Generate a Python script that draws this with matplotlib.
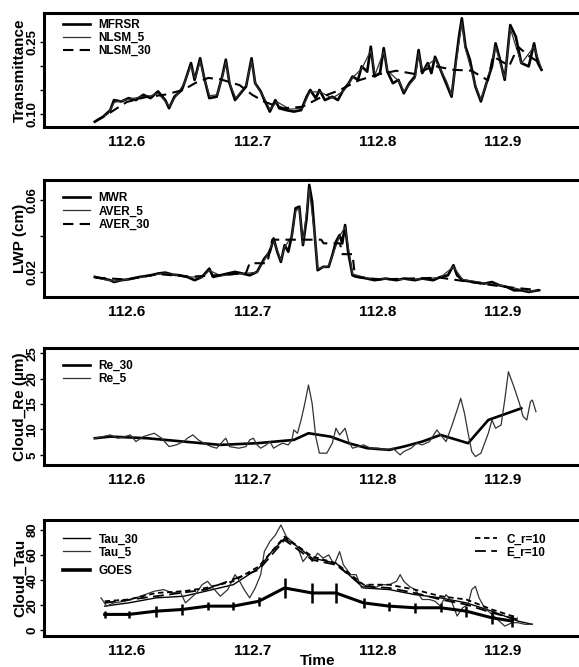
import matplotlib
matplotlib.use("Agg")
import matplotlib.pyplot as plt
from matplotlib.lines import Line2D
from matplotlib import font_manager

names = {f.name for f in font_manager.fontManager.ttflist}
FONT = "Liberation Sans" if "Liberation Sans" in names else "DejaVu Sans"
plt.rcParams["font.family"] = [FONT, "DejaVu Sans"]
plt.rcParams["font.weight"] = "bold"

# ---- data (time in fractional day) ----
xticks = [112.6, 112.7, 112.8, 112.9]

# panel 1: transmittance
mfrsr_t = [112.5745, 112.5810, 112.5868, 112.5898, 112.5956, 112.6015, 112.6073, 112.6132, 112.6190,
           112.6249, 112.6307, 112.6337, 112.6380, 112.6439, 112.6468, 112.6512, 112.6541, 112.6585,
           112.6615, 112.6658, 112.6717, 112.6761, 112.6790, 112.6819, 112.6863, 112.6907, 112.6951,
           112.6995, 112.7024, 112.7068, 112.7097, 112.7141, 112.7185, 112.7215, 112.7273, 112.7332,
           112.7390, 112.7434, 112.7463, 112.7507, 112.7536, 112.7580, 112.7639, 112.7683, 112.7727,
           112.7770, 112.7800, 112.7844, 112.7873, 112.7917, 112.7946, 112.7975, 112.8019, 112.8049,
           112.8078, 112.8122, 112.8166, 112.8209, 112.8253, 112.8297, 112.8327, 112.8356, 112.8400,
           112.8429, 112.8458, 112.8502, 112.8546, 112.8590, 112.8619, 112.8649, 112.8672, 112.8701,
           112.8736, 112.8780, 112.8824, 112.8868, 112.8912, 112.8941, 112.8970, 112.9014, 112.9058,
           112.9102, 112.9146, 112.9205, 112.9248, 112.9278, 112.9307]
mfrsr_v = [0.084, 0.094, 0.108, 0.129, 0.126, 0.133, 0.129, 0.140, 0.133,
           0.147, 0.129, 0.112, 0.136, 0.150, 0.171, 0.206, 0.171, 0.216,
           0.178, 0.133, 0.136, 0.178, 0.213, 0.164, 0.129, 0.143, 0.157,
           0.216, 0.164, 0.147, 0.129, 0.105, 0.129, 0.112, 0.108, 0.105,
           0.108, 0.136, 0.150, 0.133, 0.150, 0.129, 0.136, 0.129, 0.150,
           0.164, 0.178, 0.171, 0.199, 0.188, 0.240, 0.178, 0.185, 0.237,
           0.188, 0.164, 0.171, 0.143, 0.164, 0.178, 0.233, 0.185, 0.206,
           0.185, 0.219, 0.192, 0.164, 0.136, 0.199, 0.261, 0.299, 0.240,
           0.213, 0.157, 0.126, 0.164, 0.199, 0.247, 0.219, 0.171, 0.285,
           0.261, 0.206, 0.199, 0.247, 0.206, 0.192]
nlsm5_t = [112.5760, 112.5850, 112.5900, 112.6000, 112.6100, 112.6190, 112.6250, 112.6310, 112.6340,
           112.6400, 112.6460, 112.6510, 112.6545, 112.6585, 112.6620, 112.6660, 112.6720, 112.6760,
           112.6790, 112.6825, 112.6870, 112.6950, 112.6995, 112.7030, 112.7100, 112.7140, 112.7200,
           112.7300, 112.7400, 112.7460, 112.7540, 112.7640, 112.7730, 112.7800, 112.7875, 112.7946,
           112.7980, 112.8049, 112.8080, 112.8170, 112.8210, 112.8300, 112.8327, 112.8360, 112.8400,
           112.8458, 112.8550, 112.8590, 112.8620, 112.8672, 112.8700, 112.8780, 112.8824, 112.8870,
           112.8941, 112.9014, 112.9058, 112.9146, 112.9248, 112.9307]
nlsm5_v = [0.088, 0.100, 0.124, 0.130, 0.135, 0.138, 0.143, 0.125, 0.116,
           0.140, 0.165, 0.200, 0.175, 0.210, 0.172, 0.138, 0.140, 0.175,
           0.208, 0.160, 0.133, 0.160, 0.210, 0.160, 0.132, 0.110, 0.125,
           0.110, 0.112, 0.146, 0.146, 0.133, 0.148, 0.175, 0.195, 0.232,
           0.182, 0.230, 0.190, 0.168, 0.147, 0.175, 0.226, 0.188, 0.202,
           0.214, 0.168, 0.140, 0.196, 0.290, 0.236, 0.160, 0.130, 0.165,
           0.240, 0.175, 0.278, 0.205, 0.240, 0.195]
nlsm30_t = [112.575, 112.585, 112.600, 112.615, 112.630, 112.645, 112.655, 112.665, 112.675, 112.690,
            112.700, 112.710, 112.725, 112.740, 112.755, 112.770, 112.785, 112.800, 112.815, 112.830,
            112.845, 112.860, 112.875, 112.888, 112.892, 112.905, 112.912, 112.920, 112.930]
nlsm30_v = [0.085, 0.100, 0.125, 0.135, 0.140, 0.150, 0.165, 0.175, 0.172, 0.160,
            0.140, 0.125, 0.112, 0.115, 0.135, 0.150, 0.170, 0.182, 0.190, 0.183,
            0.200, 0.192, 0.190, 0.170, 0.220, 0.200, 0.240, 0.222, 0.205]

# panel 2: liquid water path
mwr_t = [112.5745, 112.5810, 112.5868, 112.5898, 112.5956, 112.6015, 112.6102, 112.6190, 112.6249,
         112.6307, 112.6366, 112.6424, 112.6483, 112.6541, 112.6600, 112.6658, 112.6688, 112.6746,
         112.6805, 112.6863, 112.6922, 112.6980, 112.7039, 112.7068, 112.7097, 112.7141, 112.7171,
         112.7200, 112.7229, 112.7259, 112.7288, 112.7317, 112.7346, 112.7376, 112.7405, 112.7434,
         112.7455, 112.7478, 112.7501, 112.7522, 112.7566, 112.7610, 112.7639, 112.7668, 112.7697,
         112.7718, 112.7741, 112.7765, 112.7800, 112.7844, 112.7917, 112.7975, 112.8063, 112.8151,
         112.8209, 112.8297, 112.8356, 112.8444, 112.8502, 112.8561, 112.8605, 112.8634, 112.8678,
         112.8765, 112.8853, 112.8912, 112.8970, 112.9029, 112.9087, 112.9146, 112.9205, 112.9278]
mwr_v = [0.0174, 0.0165, 0.0156, 0.0146, 0.0156, 0.0161, 0.0174, 0.0183, 0.0193,
         0.0198, 0.0187, 0.0183, 0.0174, 0.0156, 0.0174, 0.0220, 0.0174, 0.0183,
         0.0193, 0.0202, 0.0193, 0.0183, 0.0202, 0.0239, 0.0276, 0.0313, 0.0387,
         0.0313, 0.0257, 0.0350, 0.0313, 0.0406, 0.0554, 0.0563, 0.0350, 0.0498,
         0.0683, 0.0591, 0.0387, 0.0211, 0.0230, 0.0230, 0.0294, 0.0369, 0.0406,
         0.0359, 0.0461, 0.0313, 0.0183, 0.0174, 0.0165, 0.0156, 0.0165, 0.0156,
         0.0165, 0.0156, 0.0165, 0.0156, 0.0174, 0.0183, 0.0239, 0.0183, 0.0156,
         0.0146, 0.0137, 0.0146, 0.0128, 0.0119, 0.0100, 0.0100, 0.0091, 0.0100]
aver5_t = [112.5745, 112.5900, 112.6100, 112.6300, 112.6480, 112.6600, 112.6660, 112.6750, 112.6920,
           112.7040, 112.7100, 112.7171, 112.7229, 112.7259, 112.7317, 112.7346, 112.7376, 112.7405,
           112.7455, 112.7501, 112.7522, 112.7610, 112.7697, 112.7741, 112.7800, 112.7917, 112.8151,
           112.8356, 112.8502, 112.8605, 112.8678, 112.8853, 112.9029, 112.9205, 112.9278]
aver5_v = [0.0170, 0.0150, 0.0170, 0.0195, 0.0175, 0.0172, 0.0210, 0.0180, 0.0192,
           0.0200, 0.0270, 0.0375, 0.0265, 0.0340, 0.0400, 0.0540, 0.0550, 0.0360,
           0.0660, 0.0390, 0.0220, 0.0235, 0.0400, 0.0450, 0.0190, 0.0168, 0.0160,
           0.0163, 0.0172, 0.0230, 0.0160, 0.0140, 0.0122, 0.0095, 0.0100]
aver30_t = [112.575, 112.600, 112.625, 112.650, 112.675, 112.695, 112.698, 112.712, 112.716, 112.755,
            112.757, 112.770, 112.772, 112.780, 112.782, 112.800, 112.850, 112.870, 112.900, 112.930]
aver30_v = [0.0170, 0.0160, 0.0190, 0.0175, 0.0185, 0.0195, 0.0250, 0.0250, 0.0380, 0.0380,
            0.0360, 0.0360, 0.0300, 0.0300, 0.0175, 0.0160, 0.0170, 0.0150, 0.0120, 0.0100]

# panel 3: effective radius
re30_t = [112.5745, 112.5868, 112.6161, 112.6454, 112.6746, 112.7039, 112.7332, 112.7449, 112.7624,
          112.7770, 112.7917, 112.8093, 112.8209, 112.8356, 112.8502, 112.8722, 112.8883, 112.9146]
re30_v = [8.27, 8.59, 8.27, 7.61, 6.96, 7.29, 7.94, 9.25, 8.59,
          7.29, 6.31, 5.98, 6.63, 7.61, 8.92, 7.29, 11.86, 14.15]
re5_t = [112.5745, 112.5810, 112.5868, 112.5927, 112.5985, 112.6029, 112.6073, 112.6132, 112.6219,
         112.6278, 112.6337, 112.6395, 112.6454, 112.6483, 112.6527, 112.6571, 112.6615, 112.6673,
         112.6717, 112.6776, 112.6790, 112.6819, 112.6893, 112.6951, 112.6980, 112.7010, 112.7039,
         112.7068, 112.7112, 112.7141, 112.7171, 112.7215, 112.7244, 112.7288, 112.7317, 112.7332,
         112.7361, 112.7390, 112.7420, 112.7449, 112.7478, 112.7507, 112.7536, 112.7595, 112.7639,
         112.7668, 112.7697, 112.7741, 112.7770, 112.7800, 112.7844, 112.7888, 112.7946, 112.8005,
         112.8063, 112.8122, 112.8151, 112.8180, 112.8209, 112.8268, 112.8312, 112.8356, 112.8414,
         112.8473, 112.8502, 112.8546, 112.8590, 112.8634, 112.8663, 112.8693, 112.8722, 112.8751,
         112.8780, 112.8824, 112.8883, 112.8912, 112.8941, 112.8985, 112.9014, 112.9043, 112.9087,
         112.9131, 112.9161, 112.9190, 112.9219, 112.9234, 112.9263]
re5_v = [8.27, 8.59, 8.92, 8.27, 8.59, 8.92, 7.61, 8.59, 9.25,
         8.27, 6.63, 6.96, 7.61, 8.27, 8.92, 7.94, 7.29, 6.63,
         6.31, 7.94, 8.27, 6.63, 6.31, 6.63, 7.94, 8.27, 6.96,
         6.31, 6.96, 7.61, 6.31, 6.96, 7.29, 6.96, 7.94, 9.90,
         9.25, 11.86, 15.13, 18.73, 15.13, 8.59, 5.33, 5.33, 7.29,
         10.23, 8.92, 10.23, 7.61, 6.31, 6.63, 6.96, 6.31, 6.31,
         5.98, 6.31, 5.65, 5.00, 5.65, 6.31, 7.29, 6.96, 7.61,
         9.90, 8.92, 7.61, 10.56, 13.82, 16.11, 13.17, 9.25, 5.65,
         4.67, 5.33, 9.25, 11.86, 10.23, 10.88, 15.78, 21.34, 18.40,
         15.13, 12.52, 11.86, 15.46, 15.78, 13.50]

# panel 4: optical depth
tau30_t = [112.5824, 112.6015, 112.6234, 112.6454, 112.6629, 112.6849, 112.7053, 112.7156, 112.7258,
           112.7361, 112.7478, 112.7668, 112.7800, 112.7888, 112.8093, 112.8297, 112.8502, 112.8707,
           112.8912, 112.9117, 112.9234]
tau30_v = [19.3, 21.9, 25.9, 27.2, 31.2, 36.4, 49.6, 62.8, 73.4,
           66.8, 57.6, 53.6, 41.7, 33.8, 32.5, 28.5, 25.9, 21.9,
           15.3, 7.4, 4.8]
tau5_t = [112.5795, 112.5839, 112.5898, 112.5985, 112.6073, 112.6146, 112.6219, 112.6293, 112.6366,
          112.6424, 112.6468, 112.6512, 112.6556, 112.6600, 112.6644, 112.6688, 112.6746, 112.6805,
          112.6863, 112.6893, 112.6936, 112.6980, 112.7024, 112.7068, 112.7097, 112.7141, 112.7185,
          112.7229, 112.7273, 112.7317, 112.7361, 112.7405, 112.7449, 112.7478, 112.7522, 112.7566,
          112.7610, 112.7654, 112.7697, 112.7727, 112.7785, 112.7829, 112.7873, 112.7917, 112.7975,
          112.8034, 112.8093, 112.8151, 112.8180, 112.8209, 112.8253, 112.8297, 112.8356, 112.8414,
          112.8458, 112.8502, 112.8546, 112.8590, 112.8634, 112.8678, 112.8722, 112.8751, 112.8780,
          112.8809, 112.8853, 112.8912, 112.8970, 112.9014, 112.9073, 112.9117, 112.9175, 112.9234]
tau5_v = [25.9, 19.3, 21.9, 23.2, 25.9, 28.5, 31.2, 32.5, 29.8,
          31.2, 21.9, 25.9, 29.8, 36.4, 39.1, 33.8, 27.2, 32.5,
          44.4, 40.4, 32.5, 25.9, 33.8, 44.4, 62.8, 70.8, 76.0,
          84.0, 74.7, 70.8, 66.8, 54.9, 60.2, 54.9, 61.5, 57.6,
          60.2, 52.3, 62.8, 52.3, 44.4, 44.4, 33.8, 36.4, 33.8,
          36.4, 36.4, 39.1, 44.4, 39.1, 35.1, 32.5, 24.6, 24.6,
          23.2, 19.3, 28.5, 23.2, 11.4, 18.0, 20.6, 32.5, 35.1,
          25.9, 18.0, 12.7, 7.4, 3.4, 6.1, 6.1, 4.8, 4.8]
goes_t = [112.5824, 112.6015, 112.6234, 112.6439, 112.6644, 112.6849, 112.7053, 112.7258, 112.7478,
          112.7668, 112.7888, 112.8093, 112.8297, 112.8502, 112.8707, 112.8912, 112.9073]
goes_v = [12.7, 12.7, 15.3, 16.6, 19.3, 19.3, 23.2, 33.8, 29.8,
          29.8, 21.9, 19.3, 18.0, 18.0, 15.3, 10.0, 7.4]
goes_err = [2.5, 2.5, 4.5, 4.5, 3.0, 3.0, 3.5, 8.0, 8.0,
            8.0, 4.0, 3.5, 4.0, 3.5, 4.5, 5.0, 4.5]
cr_t = [112.5824, 112.6015, 112.6234, 112.6454, 112.6629, 112.6849, 112.7053, 112.7258, 112.7478,
        112.7668, 112.7888, 112.8093, 112.8297, 112.8502, 112.8707, 112.8912, 112.9117]
cr_v = [23.2, 24.6, 29.8, 31.2, 33.8, 39.1, 51.0, 74.7, 58.9,
        53.6, 36.4, 36.4, 32.5, 27.2, 24.6, 16.6, 10.0]
er_t = [112.5824, 112.6234, 112.6629, 112.7053, 112.7258, 112.7478, 112.7668, 112.7888, 112.8093,
        112.8297, 112.8502, 112.8707, 112.8912, 112.9117]
er_v = [21.9, 27.2, 32.5, 48.3, 72.1, 56.2, 52.3, 35.1, 33.8,
        29.8, 24.6, 20.6, 14.0, 8.7]

fig = plt.figure(figsize=(5.79, 6.67), dpi=100)

XL, XW = 0.076, 0.9465
ax1 = fig.add_axes([XL, 0.8096, XW, 0.1709])
ax2 = fig.add_axes([XL, 0.5547, XW, 0.1754])
ax3 = fig.add_axes([XL, 0.3028, XW, 0.1754])
ax4 = fig.add_axes([XL, 0.0465, XW, 0.1739])


def setup(ax, ylim, yticks, ylabels, ylabel):
    ax.set_xlim(112.534, 112.971)
    ax.set_ylim(*ylim)
    ax.set_xticks(xticks)
    ax.set_xticklabels([str(x) for x in xticks], fontsize=11, fontweight="bold")
    ax.set_yticks(yticks)
    ax.set_yticklabels(ylabels, rotation=90, va="center", fontsize=9.5, fontweight="bold")
    for s in ["left", "bottom", "top"]:
        ax.spines[s].set_linewidth(2.2)
    ax.spines["right"].set_visible(False)
    ax.tick_params(axis="x", length=0, pad=6)
    ax.tick_params(axis="y", length=3, width=1, pad=1)
    ax.set_ylabel(ylabel, fontsize=11, fontweight="bold")
    ax.yaxis.set_label_coords(-0.031, 0.5)


def leg(ax, handles, labels, anchor, hl=2.3):
    lg = ax.legend(handles, labels, loc="upper left", bbox_to_anchor=anchor, frameon=False,
                   fontsize=8.5, handlelength=hl, handletextpad=0.75, labelspacing=0.1,
                   borderaxespad=0, borderpad=0)
    for t in lg.get_texts():
        t.set_fontweight("bold")
    return lg


thick = dict(color="black", lw=1.9)
thin = dict(color="#333333", lw=0.9)
dash30 = dict(color="black", lw=1.5, dashes=(5, 3))

# panel 1
ax1.plot(mfrsr_t, mfrsr_v, **thick)
ax1.plot(nlsm5_t, nlsm5_v, **thin)
ax1.plot(nlsm30_t, nlsm30_v, **dash30)
setup(ax1, (0.073, 0.310), [0.10, 0.15, 0.20, 0.25], ["0.10", "", "", "0.25"], "Transmittance")
leg(ax1, [Line2D([], [], **thick), Line2D([], [], **thin), Line2D([], [], **dash30)],
    ["MFRSR", "NLSM_5", "NLSM_30"], (0.034, 0.95))

# panel 2
ax2.plot(mwr_t, mwr_v, **thick)
ax2.plot(aver5_t, aver5_v, **thin)
ax2.plot(aver30_t, aver30_v, **dash30)
setup(ax2, (0.0063, 0.071), [0.02, 0.04, 0.06], ["0.02", "", "0.06"], "LWP (cm)")
leg(ax2, [Line2D([], [], **thick), Line2D([], [], **thin), Line2D([], [], **dash30)],
    ["MWR", "AVER_5", "AVER_30"], (0.034, 0.895))

# panel 3
ax3.plot(re30_t, re30_v, **thick)
ax3.plot(re5_t, re5_v, **thin)
setup(ax3, (3.0, 26.0), [5, 10, 15, 20, 25], ["5", "10", "15", "20", "25"], "Cloud_Re (\u00b5m)")
leg(ax3, [Line2D([], [], **thick), Line2D([], [], **thin)], ["Re_30", "Re_5"], (0.034, 0.9))

# panel 4
cr_style = dict(color="black", lw=1.3, dashes=(3, 2))
er_style = dict(color="black", lw=1.3, dashes=(6, 3))
ax4.plot(tau30_t, tau30_v, color="black", lw=1.0)
ax4.plot(tau5_t, tau5_v, **thin)
ax4.plot(cr_t, cr_v, **cr_style)
ax4.plot(er_t, er_v, **er_style)
ax4.errorbar(goes_t, goes_v, yerr=goes_err, color="black", lw=2.2, elinewidth=1.8, capsize=0)
setup(ax4, (-4.5, 88), [0, 20, 40, 60, 80], ["0", "20", "40", "60", "80"], "Cloud_Tau")
tau_leg = leg(ax4, [Line2D([], [], color="black", lw=1.0), Line2D([], [], **thin)],
              ["Tau_30", "Tau_5"], (0.034, 0.885))
ax4.add_artist(tau_leg)
goes_leg = leg(ax4, [Line2D([], [], color="black", lw=2.6)], ["GOES"], (0.034, 0.61))
ax4.add_artist(goes_leg)
leg(ax4, [Line2D([], [], **cr_style), Line2D([], [], **er_style)],
    ["C_r=10", "E_r=10"], (0.786, 0.885), hl=1.9)
ax4.set_xlabel("Time", fontsize=11, fontweight="bold", labelpad=-3)

fig.savefig("out.png", dpi=100)
